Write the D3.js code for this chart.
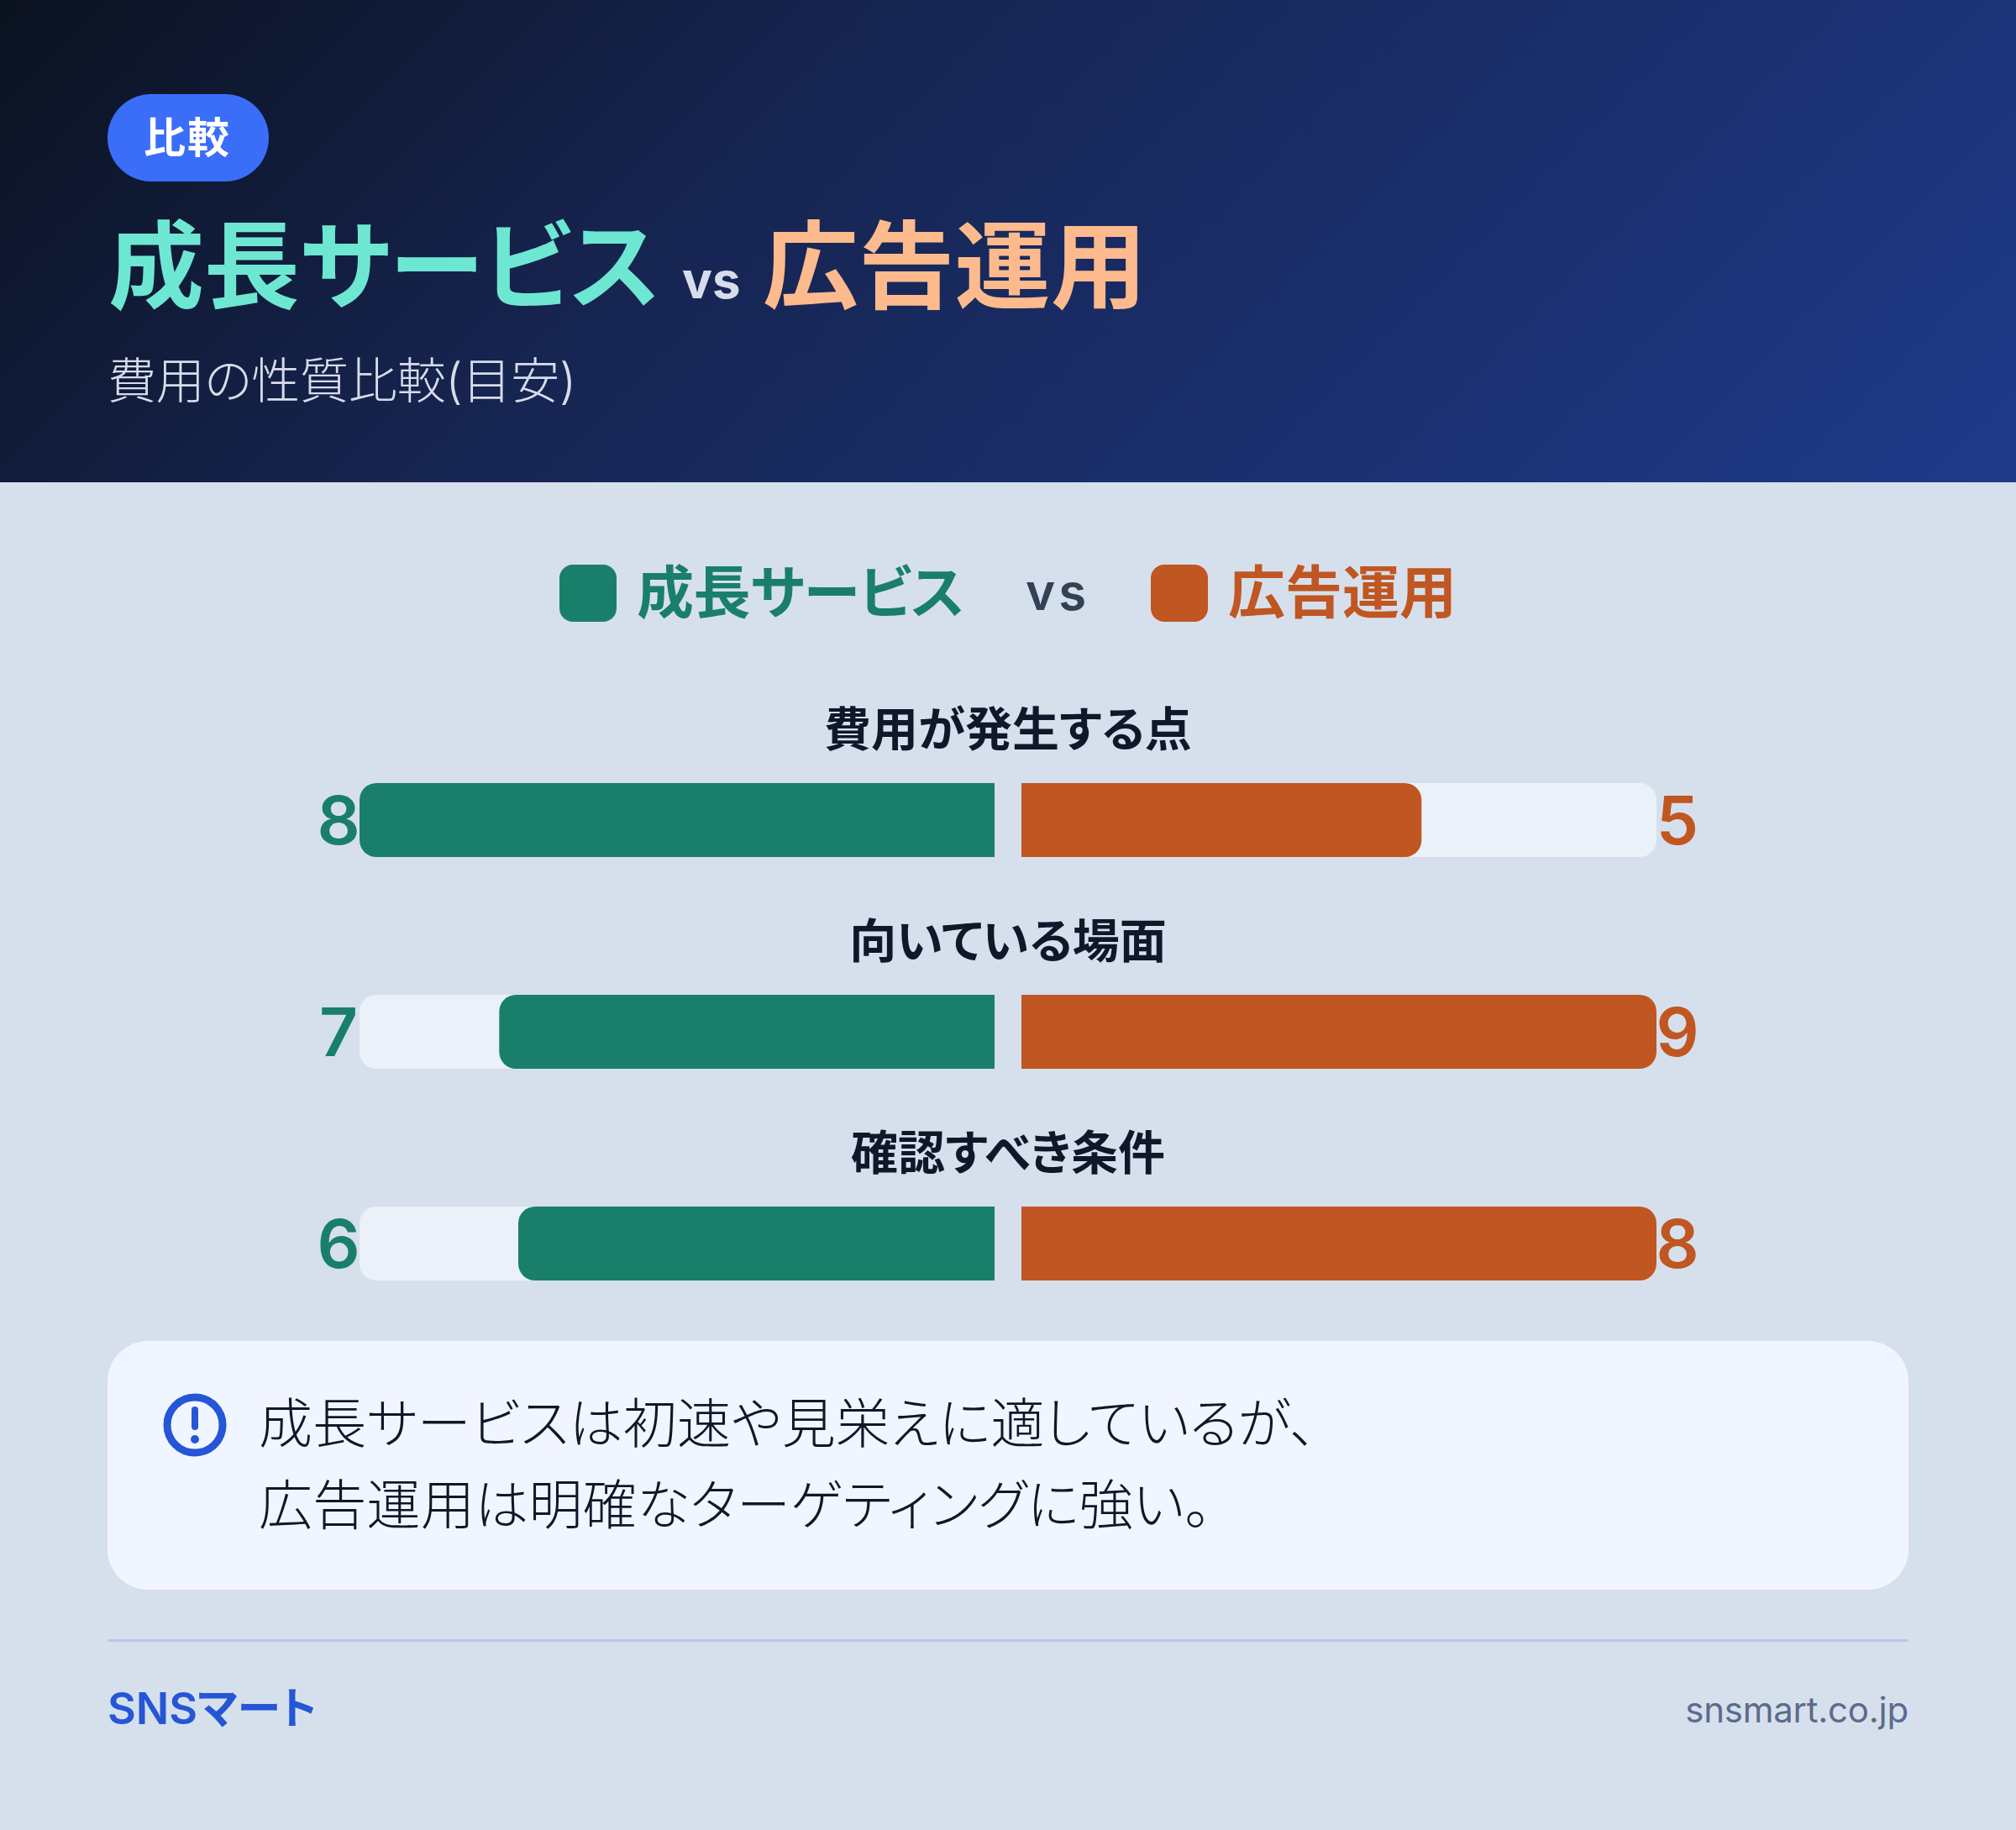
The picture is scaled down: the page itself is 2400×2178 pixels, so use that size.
<!DOCTYPE html>
<html lang="ja"><head><meta charset="utf-8">
<script src="https://cdn.jsdelivr.net/npm/d3@7/dist/d3.min.js"></script>
<style>html,body{margin:0;padding:0;background:#d6e0ec}svg{display:block}text{font-family:Inter,"Noto Sans CJK JP",sans-serif;font-feature-settings:"palt"}</style>
</head><body><div id="c"></div>
<script>
const categories=["費用が発生する点","向いている場面","確認すべき条件"];
const growthValues=[8,7,6];
const adValues=[5,9,8];
const seriesNames=["成長サービス","広告運用"];
const noteLines=["成長サービスは初速や見栄えに適しているが、","広告運用は明確なターゲティングに強い。"];
const W=2400,H=2178;
const GREEN="#1a7f6a",ORANGE="#c05621",TRACK="#ebf1f8";
const svg=d3.select("#c").append("svg").attr("width",W).attr("height",H).attr("viewBox",[0,0,W,H]);
const defs=svg.append("defs");
const lg=defs.append("linearGradient").attr("id","hdr").attr("gradientUnits","userSpaceOnUse")
 .attr("x1",456.5).attr("y1",-456.5).attr("x2",1943.5).attr("y2",1030.5);
[[0,"#0b1220"],[0.35,"#162450"],[1,"#1e3a8a"]].forEach(([o,c])=>lg.append("stop").attr("offset",o).attr("stop-color",c));
svg.append("rect").attr("width",W).attr("height",H).attr("fill","#d6e0ec");
svg.append("rect").attr("width",W).attr("height",574).attr("fill","url(#hdr)");
function T(x,y,s,size,weight,fill,anchor,ls){
 return svg.append("text").attr("x",x).attr("y",y).text(s).attr("font-size",size).attr("font-weight",weight)
  .attr("fill",fill).attr("text-anchor",anchor||"start").attr("letter-spacing",ls||0);
}
// header
svg.append("rect").attr("x",128).attr("y",112).attr("width",192).attr("height",104).attr("rx",52).attr("fill","#3b6ef8");
T(223,182,"比較",50,700,"#fff","middle",2);
T(129,358,seriesNames[0],114,700,"#6ee7d2","start",-0.3);
T(812,355,"vs",60,700,"#d6dcea");
T(908,358,seriesNames[1],114,700,"#fdba8c","start",0.3);
T(128,474,"費用の性質比較(目安)",58,300,"#d6dcea","start",-0.2);
// legend
svg.append("rect").attr("x",666).attr("y",672).attr("width",68).attr("height",68).attr("rx",16).attr("fill",GREEN);
T(758,730,seriesNames[0],68,700,GREEN,"start",-0.5);
T(1221,726,"vs",60,600,"#334155","start",4);
svg.append("rect").attr("x",1370).attr("y",672).attr("width",68).attr("height",68).attr("rx",16).attr("fill",ORANGE);
T(1462,730,seriesNames[1],68,700,ORANGE,"start",0);
// bars
const band=d3.scalePoint().domain(categories).range([932,1436]);
const barH=88,r=20;
const L=d3.scaleLinear().domain([0,100]).range([1184,428]);
const R=d3.scaleLinear().domain([0,100]).range([1216,1972]);
const pct=(v,i)=>Math.round(100*v/Math.max(growthValues[i],adValues[i]));
function leftBar(x0,x1,y){const p=d3.path();p.moveTo(x1,y);p.lineTo(x0+r,y);p.arcTo(x0,y,x0,y+r,r);p.lineTo(x0,y+barH-r);p.arcTo(x0,y+barH,x0+r,y+barH,r);p.lineTo(x1,y+barH);p.closePath();return p.toString();}
function rightBar(x0,x1,y){const p=d3.path();p.moveTo(x0,y);p.lineTo(x1-r,y);p.arcTo(x1,y,x1,y+r,r);p.lineTo(x1,y+barH-r);p.arcTo(x1,y+barH,x1-r,y+barH,r);p.lineTo(x0,y+barH);p.closePath();return p.toString();}
categories.forEach((c,i)=>{
 const y=band(c);
 T(1200,y-44,c,56,700,"#0f172a","middle",0);
 svg.append("path").attr("d",leftBar(L(100),L(0),y)).attr("fill",TRACK);
 svg.append("path").attr("d",rightBar(R(0),R(100),y)).attr("fill",TRACK);
 svg.append("path").attr("d",leftBar(L(pct(growthValues[i],i)),L(0),y)).attr("fill",GREEN);
 svg.append("path").attr("d",rightBar(R(0),R(pct(adValues[i],i)),y)).attr("fill",ORANGE);
 T(403,y+73,growthValues[i],80,600,GREEN,"middle");
 T(1997,y+73,adValues[i],80,600,ORANGE,"middle");
});
// note
svg.append("rect").attr("x",128).attr("y",1596).attr("width",2144).attr("height",296).attr("rx",48).attr("fill","#f1f5ff");
svg.append("circle").attr("cx",232).attr("cy",1696).attr("r",33).attr("fill","none").attr("stroke","#2456d6").attr("stroke-width",9);
svg.append("rect").attr("x",228).attr("y",1674).attr("width",8).attr("height",28).attr("rx",4).attr("fill","#2456d6");
svg.append("circle").attr("cx",232).attr("cy",1713).attr("r",5).attr("fill","#2456d6");
noteLines.forEach((s,i)=>T(308,1717+i*97,s,64,300,"#0f172a","start",0.3));
// footer
svg.append("rect").attr("x",128).attr("y",1951).attr("width",2144).attr("height",3).attr("fill","#b8c9e3");
T(128,2052,"SNSマート",52,600,"#2456d6","start",0);
T(2272,2050,"snsmart.co.jp",42,400,"#5b6b8c","end",-0.25);
</script></body></html>
